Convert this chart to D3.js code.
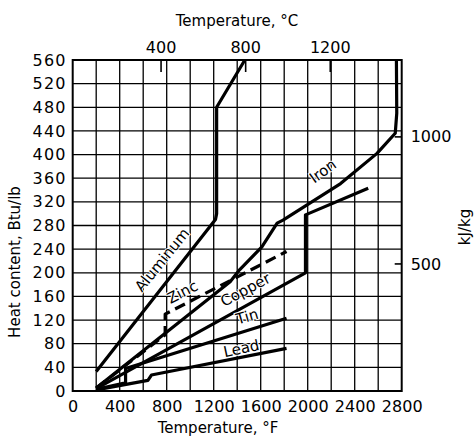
<!DOCTYPE html>
<html>
<head>
<meta charset="utf-8">
<script src="https://cdn.jsdelivr.net/npm/d3@7"></script>
<style>
  body { margin: 0; background: #fff; }
  svg text { font-family: "DejaVu Sans", sans-serif; fill: #000; }
  .grid line { stroke: #000; stroke-width: 1.3; }
  .metal { fill: none; stroke: #000; stroke-width: 3.2; stroke-linejoin: round; }
  .lbl { font-size: 15px; paint-order: stroke; stroke: #fff; stroke-width: 2px; }
</style>
</head>
<body>
<svg id="chart" width="474" height="438"></svg>
<script>
// ticks
const tempTicksF = [0, 400, 800, 1200, 1600, 2000, 2400, 2800];
const heatTicks = [0, 40, 80, 120, 160, 200, 240, 280, 320, 360, 400, 440, 480, 520, 560];
const tempTicksC = [400, 800, 1200];
const kjTicks = [500, 1000];

// curves: [deg F, Btu/lb]
const aluminum = [[200, 33], [1215, 290], [1225, 300], [1225, 480], [1465, 560]];
const iron = [[200, 5], [1340, 185], [1420, 205], [1610, 244], [1740, 284], [1790, 289],
              [2280, 351], [2590, 402], [2745, 436], [2758, 470], [2755, 560]];
const copper = [[200, 4], [1981, 200], [1981, 298], [2515, 343]];
const zinc = [[200, 5], [787, 95], [787, 130], [1820, 236]];
const tin = [[200, 3], [450, 14], [450, 38], [1820, 123]];
const lead = [[200, 2], [640, 18], [670, 27], [1820, 72]];

const labels = [
    {text: "Aluminum", at: [785, 218], angle: -51},
    {text: "Zinc", at: [948, 162], angle: -27},
    {text: "Copper", at: [1484, 166], angle: -28},
    {text: "Tin", at: [1493, 120], angle: -16},
    {text: "Lead", at: [1442, 66], angle: -12},
    {text: "Iron", at: [2147, 367], angle: -36}
];

const svg = d3.select("#chart");
const x = d3.scaleLinear().domain([0, 2800]).range([72.7, 401.7]);
const y = d3.scaleLinear().domain([0, 560]).range([391, 60]);
const cToF = (c) => c * 9 / 5 + 32;
const kjToBtu = (k) => k / 2.326;

// grid
const grid = svg.append("g").attr("class", "grid");
grid.selectAll(".v").data(d3.range(200, 2800, 200)).join("line")
    .attr("x1", d => x(d)).attr("x2", d => x(d))
    .attr("y1", y(0)).attr("y2", y(560));
grid.selectAll(".h").data(d3.range(40, 560, 40)).join("line")
    .attr("x1", x(0)).attr("x2", x(2800))
    .attr("y1", d => y(d)).attr("y2", d => y(d));

svg.append("rect")
    .attr("x", x(0)).attr("y", y(560))
    .attr("width", x(2800) - x(0)).attr("height", y(0) - y(560))
    .attr("fill", "none").attr("stroke", "#000").attr("stroke-width", 2);

// axes
const bottomAxis = svg.append("g").attr("transform", `translate(0,${y(0)})`)
    .call(d3.axisBottom(x).tickValues(tempTicksF).tickFormat(d3.format("d"))
        .tickSize(0).tickPadding(10));
const leftAxis = svg.append("g").attr("transform", `translate(${x(0)},0)`)
    .call(d3.axisLeft(y).tickValues(heatTicks).tickFormat(d3.format("d"))
        .tickSize(0).tickPadding(6));

const topG = svg.append("g");
tempTicksC.forEach((c) => {
    topG.append("line").attr("x1", x(cToF(c))).attr("x2", x(cToF(c)))
        .attr("y1", y(560)).attr("y2", y(560) + 12)
        .attr("stroke", "#000").attr("stroke-width", 1.6);
    topG.append("text").attr("x", x(cToF(c))).attr("y", 53)
        .attr("text-anchor", "middle").style("font-size", "16px").text(c);
});
const rightG = svg.append("g");
kjTicks.forEach((k) => {
    rightG.append("line").attr("x1", x(2800) - 7).attr("x2", x(2800))
        .attr("y1", y(kjToBtu(k))).attr("y2", y(kjToBtu(k)))
        .attr("stroke", "#000").attr("stroke-width", 1.6);
    rightG.append("text").attr("x", x(2800) + 9).attr("y", y(kjToBtu(k)))
        .attr("dy", "0.35em").style("font-size", "16px").text(k);
});

[bottomAxis, leftAxis].forEach((g) => {
    g.select(".domain").remove();
    g.selectAll("text").style("font-size", "16px").style("font-family", "DejaVu Sans");
});
leftAxis.selectAll("text").style("letter-spacing", "1.2px");

// axis titles
svg.append("text").attr("x", 237).attr("y", 26).attr("text-anchor", "middle")
    .style("font-size", "15px").text("Temperature, °C");
svg.append("text").attr("x", 218).attr("y", 433).attr("text-anchor", "middle")
    .style("font-size", "15px").text("Temperature, °F");
svg.append("text").attr("transform", "translate(20,262) rotate(-90)")
    .attr("text-anchor", "middle").style("font-size", "15px").text("Heat content, Btu/lb");
svg.append("text").attr("transform", "translate(470,227) rotate(-90)")
    .attr("text-anchor", "middle").style("font-size", "15px").text("kJ/kg");

// curves
const line = d3.line().x(d => x(d[0])).y(d => y(d[1]));
[aluminum, iron, copper, tin, lead].forEach((data) => {
    svg.append("path").attr("class", "metal").attr("d", line(data));
});
svg.append("path").attr("class", "metal").attr("d", line(zinc))
    .attr("stroke-dasharray", "11,6");

svg.selectAll(".lbl").data(labels).join("text")
    .attr("class", "lbl")
    .attr("transform", d => `translate(${x(d.at[0])},${y(d.at[1])}) rotate(${d.angle})`)
    .attr("text-anchor", "middle").attr("dy", "0.1em")
    .text(d => d.text);
</script>
</body>
</html>
